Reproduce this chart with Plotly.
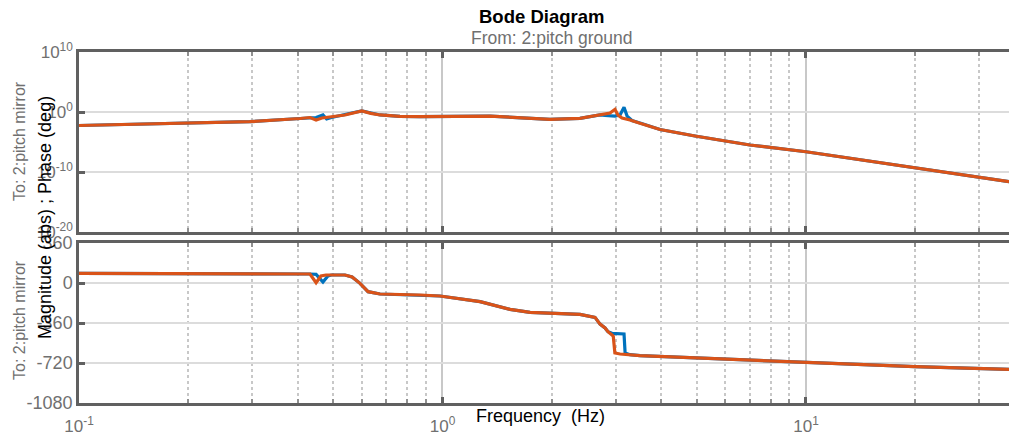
import plotly.graph_objects as go

# ---- data ----
# series 2 (orange) magnitude
freq_mag_orange = [0.1, 0.157, 0.215, 0.295, 0.406, 0.432, 0.449, 0.466, 0.539, 0.575, 0.600, 0.635, 0.673, 0.764, 0.867,
                   1.351, 1.976, 2.389, 2.713, 2.89, 2.982, 3.04, 3.118, 3.28, 3.494, 3.966, 4.95, 7.01,
                   10.0, 19.95, 30.1, 36.2]
mag_orange = [5.6e-3, 1.0e-2, 1.5e-2, 2.4e-2, 8.3e-2, 0.12, 0.047, 0.1, 0.32, 0.9, 1.5, 0.6, 0.32, 0.18, 0.17,
              0.21, 0.06, 0.089, 0.32, 0.68, 2.8, 0.3, 0.1, 0.047, 0.013, 1.2e-3, 1e-4, 3.2e-6,
              2.4e-7, 4.2e-10, 1.3e-11, 2.4e-12]
# series 1 (blue) magnitude
freq_mag_blue = [0.1, 0.157, 0.215, 0.295, 0.406, 0.432, 0.449, 0.469, 0.48, 0.495, 0.539, 0.575, 0.600, 0.635, 0.673,
                 0.764, 0.867, 1.351, 1.976, 2.389, 2.713, 2.80, 2.982, 3.08, 3.158, 3.22, 3.32, 3.494,
                 3.966, 4.95, 7.01, 10.0, 19.95, 30.1, 36.2]
mag_blue = [5.6e-3, 1.0e-2, 1.5e-2, 2.4e-2, 8.3e-2, 0.12, 0.12, 0.32, 0.068, 0.12, 0.32, 0.9, 1.5, 0.6, 0.32,
            0.18, 0.17, 0.21, 0.06, 0.089, 0.32, 0.26, 0.21, 0.32, 6.0, 0.21, 0.038, 0.015,
            1.2e-3, 1e-4, 3.2e-6, 2.4e-7, 4.2e-10, 1.3e-11, 2.4e-12]

# series 2 (orange) phase, deg
freq_ph_orange = [0.1, 0.157, 0.295, 0.406, 0.432, 0.449, 0.463, 0.478, 0.539, 0.564, 0.593, 0.624, 0.673,
                  0.867, 0.984, 1.269, 1.534, 1.741, 2.105, 2.389, 2.628, 2.713, 2.80, 2.853, 2.926,
                  2.95, 2.98, 3.08, 3.494, 6.179, 10.0, 19.95, 36.2]
phase_orange = [87, 87, 87, 86, 81, 3, 63, 72, 72, 54, -3, -78, -99,
                -108, -117, -168, -237, -264, -279, -282, -309, -370, -405, -438, -468,
                -480, -630, -639, -654, -687, -714, -753, -777]
# series 1 (blue) phase, deg
freq_ph_blue = [0.1, 0.157, 0.295, 0.406, 0.432, 0.449, 0.469, 0.484, 0.495, 0.539, 0.564, 0.593, 0.624,
                0.673, 0.867, 0.984, 1.269, 1.534, 1.741, 2.105, 2.389, 2.628, 2.713, 2.80, 2.853,
                2.926, 3.118, 3.158, 3.18, 3.28, 3.494, 6.179, 10.0, 19.95, 36.2]
phase_blue = [87, 87, 87, 86, 81, 78, 9, 63, 72, 72, 54, -3, -78,
              -99, -108, -117, -168, -237, -264, -279, -282, -309, -370, -405, -438,
              -453, -453, -459, -630, -645, -654, -687, -714, -753, -777]

x_tick_vals = [0.1, 1, 10]
x_tick_text = ["10<sup>-1</sup>", "10<sup>0</sup>", "10<sup>1</sup>"]
x_minor_vals = [0.2, 0.3, 0.4, 0.5, 0.6, 0.7, 0.8, 0.9, 2, 3, 4, 5, 6, 7, 8, 9, 20, 30]
mag_tick_vals = [1e-20, 1e-10, 1, 1e10]
mag_tick_text = ["10<sup>-20</sup>", "10<sup>-10</sup>", "10<sup>0</sup>", "10<sup>10</sup>"]
phase_tick_vals = [-1080, -720, -360, 0, 360]
phase_tick_text = ["-1080", "-720", "-360", "0", "360"]

BLUE = "#0072BD"
ORANGE = "#D95319"
AXC = "#606060"
LBL = "#707070"
FONT = "Liberation Sans, Arial, sans-serif"

W, H = 1009, 436
def py(px):
    return 1 - px / H

fig = go.Figure()
fig.add_trace(go.Scatter(x=freq_mag_blue, y=mag_blue, mode="lines", line=dict(color=BLUE, width=3.2),
                         xaxis="x", yaxis="y", showlegend=False))
fig.add_trace(go.Scatter(x=freq_mag_orange, y=mag_orange, mode="lines", line=dict(color=ORANGE, width=3.2),
                         xaxis="x", yaxis="y", showlegend=False))
fig.add_trace(go.Scatter(x=freq_ph_blue, y=phase_blue, mode="lines", line=dict(color=BLUE, width=3.2),
                         xaxis="x2", yaxis="y2", showlegend=False))
fig.add_trace(go.Scatter(x=freq_ph_orange, y=phase_orange, mode="lines", line=dict(color=ORANGE, width=3.2),
                         xaxis="x2", yaxis="y2", showlegend=False))

xcommon = dict(type="log", range=[-1, 1.5585], domain=[79 / W, 1], automargin=False,
               tickvals=x_tick_vals, showgrid=True, gridcolor="#c8c8c8", gridwidth=2,
               showline=True, linecolor=AXC, linewidth=2.5, mirror="ticks",
               ticks="inside", ticklen=6, tickwidth=2.5, tickcolor=AXC,
               minor=dict(tickvals=x_minor_vals, ticks="inside", ticklen=4, tickwidth=1.5,
                          tickcolor="#909090", showgrid=True, gridcolor="#c8c8c8",
                          griddash="dot", gridwidth=1.5),
               zeroline=False, fixedrange=True)

ycommon = dict(showgrid=True, gridcolor="#dcdcdc", gridwidth=2, automargin=False,
               showline=True, linecolor=AXC, linewidth=2.5, mirror=False,
               ticks="inside", ticklen=6, tickwidth=2.5, tickcolor=AXC,
               zeroline=False, fixedrange=True)

def ann(text, x, y, size, color, angle=0):
    return dict(text=text, x=x / W, y=py(y), xref="paper", yref="paper",
                xanchor="center", yanchor="middle", textangle=angle, showarrow=False,
                font=dict(size=size, color=color, family=FONT))

fig.update_layout(
    width=W, height=H, margin=dict(l=0, r=0, t=0, b=0, autoexpand=False),
    paper_bgcolor="white", plot_bgcolor="white",
    font=dict(family=FONT, color=LBL, size=16),
    xaxis=dict(xcommon, anchor="y", showticklabels=False),
    xaxis2=dict(xcommon, anchor="y2", ticktext=x_tick_text, showticklabels=True,
                ticklabelstandoff=6,
                tickfont=dict(size=17, color=LBL, family=FONT)),
    yaxis=dict(ycommon, type="log", range=[-20, 10], domain=[py(232), py(52)], anchor="x",
               tickvals=mag_tick_vals, ticktext=mag_tick_text,
               tickfont=dict(size=17, color=LBL, family=FONT)),
    yaxis2=dict(ycommon, range=[-1080, 360], domain=[py(403), py(243)], anchor="x2",
                tickvals=phase_tick_vals, ticktext=phase_tick_text,
                tickfont=dict(size=18, color=LBL, family=FONT)),
    annotations=[
        ann("<b>Bode Diagram</b>", 541, 16, 18.5, "black"),
        ann("From: 2:pitch ground", 551, 38, 17.5, LBL),
        ann("Frequency  (Hz)", 540, 416, 18, "black"),
        ann("Magnitude (abs) ; Phase (deg)", 45, 218, 18, "black", -90),
        ann("To: 2:pitch mirror", 19, 141, 16, LBL, -90),
        ann("To: 2:pitch mirror", 19, 320, 16, LBL, -90),
    ],
)

fig.write_html("out.html", config={"displayModeBar": False})
